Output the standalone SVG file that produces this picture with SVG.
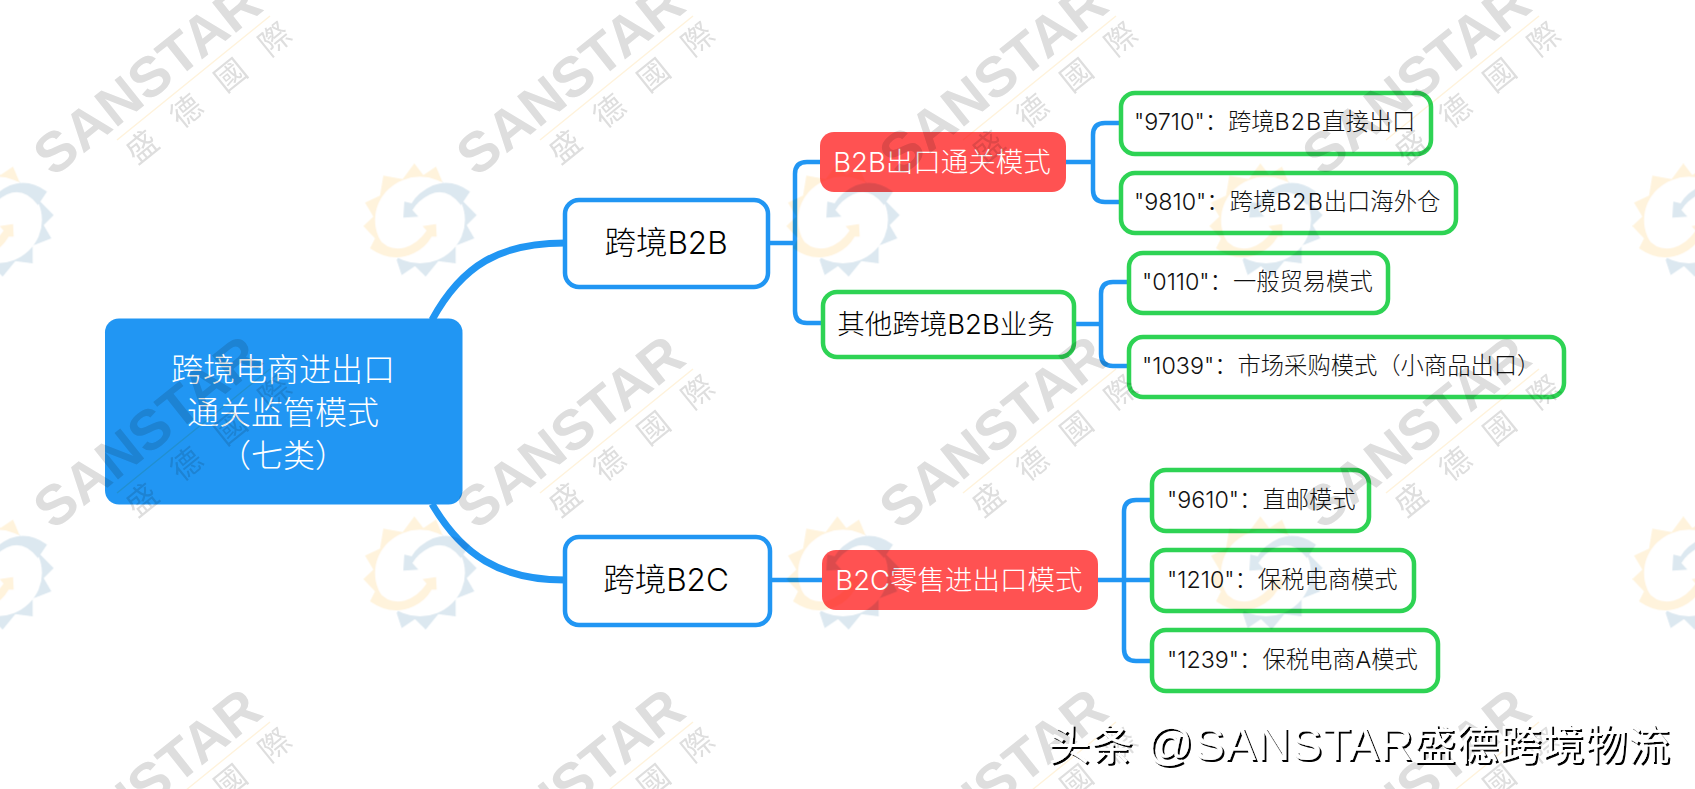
<svg xmlns="http://www.w3.org/2000/svg" xmlns:xlink="http://www.w3.org/1999/xlink" width="1695" height="789" viewBox="0 0 1695 789">
<style>
text{font-family:"Inter","Noto Sans CJK SC",sans-serif;font-weight:300}
.conn{fill:none;stroke:#2196F3;stroke-width:4.5}
.main{fill:none;stroke:#2196F3;stroke-width:7}
.blue{fill:#fff;stroke:#2196F3;stroke-width:4.5}
.green{fill:#fff;stroke:#2ED354;stroke-width:4.5}
.red{fill:#FF5252}
.t1{font-size:31.500px;fill:#000;text-anchor:middle}
.t2{font-size:27.500px;fill:#000;text-anchor:middle}
.tw{font-size:27.500px;fill:#fff;text-anchor:middle}
.leaf{font-size:23.300px;fill:#111}
.lat{letter-spacing:1px}
.root{font-size:32px;fill:#fff;text-anchor:middle}
.wy{fill:#FFF3DC}.wb{fill:#DCE8F0}
.wt{font-family:"Liberation Sans",sans-serif;font-weight:700;font-size:56px;fill:#DEDEDE}
.wc{font-family:"Noto Sans CJK TC",sans-serif;font-weight:400;font-size:31px;fill:#DEDEDE;letter-spacing:26px}
</style>
<defs>
<g id="wtext">
<text class="wt" transform="translate(53,178) rotate(-38.500)" textLength="271" lengthAdjust="spacingAndGlyphs">SANSTAR</text>
<line x1="117" y1="140" x2="270" y2="16" stroke="#FFF3DC" stroke-width="1.500"/>
<text class="wc" transform="translate(142,147) rotate(-39)" x="-15.500" y="11">盛德國際</text>
</g>
<g id="wlogo" transform="translate(-65,-65) scale(.3333)">
<polygon class="wy" points="45,280 60,250 25,213 55,185 30,143 75,122 85,62 143,72 178,25 205,60 243,35 262,80 195,195"/>
<polygon class="wb" points="262,80 325,140 365,180 335,210 358,250 302,272 302,325 250,318 212,365 180,333 140,360 125,315 195,195"/>
<ellipse cx="195" cy="195" rx="135" ry="130" fill="#fff"/>
<path class="wb" d="M345,110 Q270,55 195,115 Q178,130 170,145 L148,140 L145,188 L190,185 L172,165 Q190,135 225,118 Q275,95 318,150 Z"/>
<path class="wy" d="M45,280 Q110,325 175,295 Q210,280 230,245 L245,245 L243,207 L203,213 L215,227 Q190,265 150,278 Q100,290 70,250 Z"/>
</g>
<filter id="sh" x="-5%" y="-20%" width="110%" height="140%"><feDropShadow dx="2" dy="2" stdDeviation="0.3" flood-color="#000"/></filter>
</defs>
<rect width="1695" height="789" fill="#fff"/>
<g id="connectors">
<path class="main" d="M432,320 C462,265 500,243 565,243"/>
<path class="main" d="M432,504 C462,555 500,580 565,580"/>
<path class="conn" d="M770,243 H795"/>
<path class="conn" d="M820,162 H807 Q795,162 795,174 V311 Q795,323 807,323 H821"/>
<path class="conn" d="M1066,162 H1093"/>
<path class="conn" d="M1119,123 H1105 Q1093,123 1093,135 V190 Q1093,202 1105,202 H1119"/>
<path class="conn" d="M1076,324 H1101"/>
<path class="conn" d="M1127,282 H1113 Q1101,282 1101,294 V354 Q1101,366 1113,366 H1127"/>
<path class="conn" d="M772,580 H822"/>
<path class="conn" d="M1098,580 H1150"/>
<path class="conn" d="M1150,500 H1136 Q1124,500 1124,512 V649 Q1124,661 1136,661 H1150"/>
</g>
<g id="root"><rect x="105" y="318.500" width="357.500" height="186" rx="14" fill="#2196F3"/>
<text class="root" x="283" y="381">跨境电商进出口</text><text class="root" x="283" y="424">通关监管模式</text><text class="root" x="283" y="467">（七类）</text></g>
<g id="b2b"><rect class="blue" x="565" y="200" width="203" height="87" rx="14"/><text class="t1" x="666" y="254">跨境B2B</text></g>
<g id="b2c"><rect class="blue" x="565" y="537" width="205" height="88" rx="14"/><text class="t1" x="666" y="591">跨境B2C</text></g>
<g id="b2b-export"><rect class="red" x="820" y="132" width="246" height="60" rx="14"/><text class="tw" x="942" y="172">B2B出口通关模式</text></g>
<g id="b2b-other"><rect class="green" x="823" y="292" width="251" height="65" rx="14"/><text class="t2" x="946" y="334">其他跨境B2B业务</text></g>
<g id="b2c-retail"><rect class="red" x="822" y="550" width="276" height="60" rx="14"/><text class="tw" x="959" y="590">B2C零售进出口模式</text></g>
<g id="l9710"><rect class="green" x="1121" y="93" width="310" height="61" rx="14"/><text class="leaf" x="1134" y="130">"9710"：跨境<tspan class="lat">B2B</tspan>直接出口</text></g>
<g id="l9810"><rect class="green" x="1121" y="173" width="335" height="60" rx="14"/><text class="leaf" x="1134" y="210">"9810"：跨境<tspan class="lat">B2B</tspan>出口海外仓</text></g>
<g id="l0110"><rect class="green" x="1129" y="253" width="259" height="60" rx="14"/><text class="leaf" x="1142" y="290">"0110"：一般贸易模式</text></g>
<g id="l1039"><rect class="green" x="1129" y="337" width="435" height="60" rx="14"/><text class="leaf" x="1142" y="374">"1039"：市场采购模式（小商品出口）</text></g>
<g id="l9610"><rect class="green" x="1152" y="470" width="217" height="61" rx="14"/><text class="leaf" x="1167" y="508">"9610"：直邮模式</text></g>
<g id="l1210"><rect class="green" x="1152" y="550" width="262" height="61" rx="14"/><text class="leaf" x="1167" y="588">"1210"：保税电商模式</text></g>
<g id="l1239"><rect class="green" x="1152" y="630" width="286" height="61" rx="14"/><text class="leaf" x="1167" y="668">"1239"：保税电商A模式</text></g>
<g id="watermark" style="mix-blend-mode:multiply">
<use href="#wlogo" x="-3" y="220"/><use href="#wlogo" x="420" y="220"/><use href="#wlogo" x="843" y="220"/><use href="#wlogo" x="1266" y="220"/><use href="#wlogo" x="1689" y="220"/>
<use href="#wlogo" x="-3" y="573"/><use href="#wlogo" x="420" y="573"/><use href="#wlogo" x="843" y="573"/><use href="#wlogo" x="1266" y="573"/><use href="#wlogo" x="1689" y="573"/>
<use href="#wtext" x="0" y="0"/><use href="#wtext" x="423" y="0"/><use href="#wtext" x="846" y="0"/><use href="#wtext" x="1269" y="0"/>
<use href="#wtext" x="0" y="353"/><use href="#wtext" x="423" y="353"/><use href="#wtext" x="846" y="353"/><use href="#wtext" x="1269" y="353"/>
<use href="#wtext" x="0" y="706"/><use href="#wtext" x="423" y="706"/><use href="#wtext" x="846" y="706"/><use href="#wtext" x="1269" y="706"/>
</g>
<text id="credit" x="1048" y="760" filter="url(#sh)" style="font-family:'Liberation Sans','Noto Sans CJK SC',sans-serif;font-weight:400;font-size:42px;fill:#fff;letter-spacing:.85px">头条 <tspan style="font-size:46px">@SANSTAR</tspan>盛德跨境物流</text>
</svg>
